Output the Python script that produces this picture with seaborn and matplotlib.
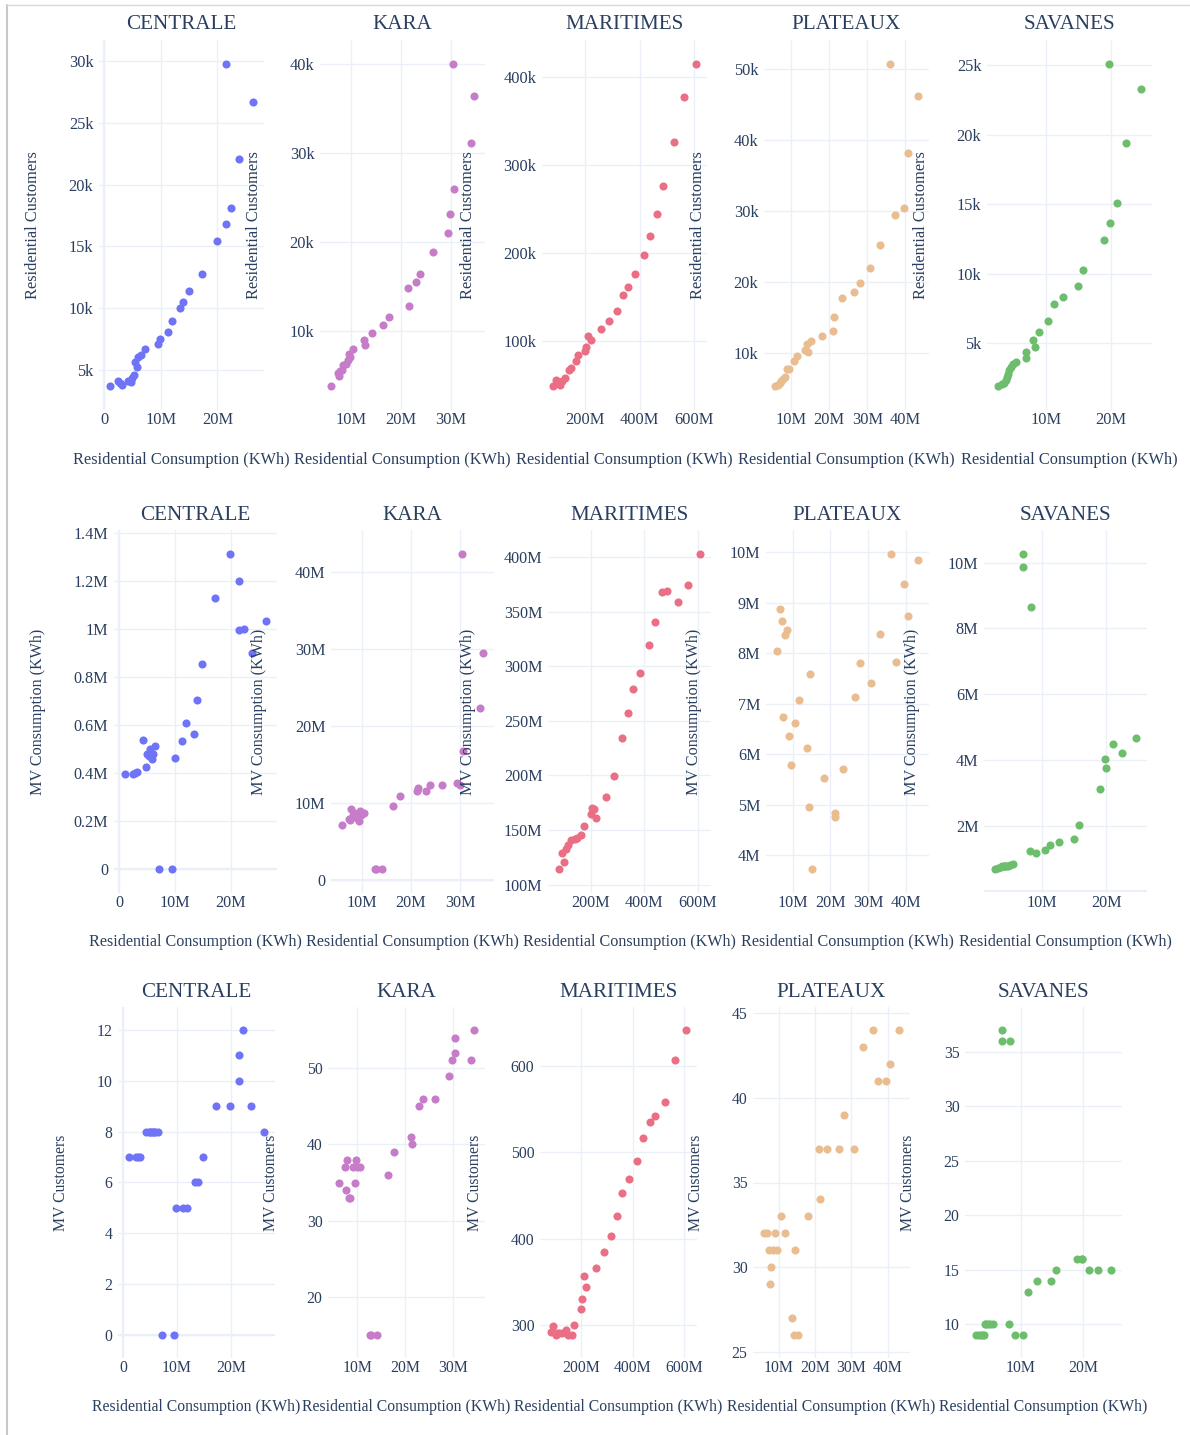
import numpy as np
import pandas as pd
import seaborn as sns
import matplotlib.pyplot as plt
from matplotlib.ticker import Formatter, FixedLocator
from matplotlib.lines import Line2D

sns.set_theme(style="white")
plt.rcParams["font.family"] = ["Liberation Serif", "DejaVu Serif"]

TEXT = "#2a3f5f"
GRID = "#EBF0F8"

regions = ["CENTRALE", "KARA", "MARITIMES", "PLATEAUX", "SAVANES"]
region_colors = ["#6F73F6", "#C67CC9", "#EA6F84", "#EABD91", "#6CBE6C"]

# ---- CENTRALE (consumption in millions of kWh, customers in thousands) ----
centrale_res_kwh_m = [1.1, 2.4, 2.8, 3.2, 4.2, 4.8, 5.0, 5.3, 5.5, 5.8, 6.0, 6.5, 7.2, 9.5,
                      9.9, 11.2, 11.9, 13.4, 13.9, 14.9, 17.2, 19.9, 21.5, 21.5, 22.3, 23.8, 26.2]
centrale_res_cust_k = [3.7, 4.1, 3.9, 3.8, 4.1, 4.0, 4.3, 4.6, 5.6, 5.2, 6.0, 6.24, 6.67, 7.1,
                       7.5, 8.1, 8.97, 10.0, 10.5, 11.4, 12.8, 15.4, 29.76, 16.8, 18.1, 22.1, 26.7]
centrale_mv_kwh_m = [0.397, 0.397, 0.400, 0.405, 0.54, 0.424, 0.48, 0.47, 0.50, 0.46, 0.48, 0.513, 0.0, 0.0,
                     0.463, 0.535, 0.61, 0.563, 0.705, 0.853, 1.13, 1.314, 1.2, 0.995, 1.0, 0.9, 1.034]
centrale_mv_cust = [7, 7, 7, 7, 8, 8, 8, 8, 8, 8, 8, 8, 0, 0,
                    5, 5, 5, 6, 6, 7, 9, 9, 11, 10, 12, 9, 8]

# ---- KARA ----
kara_res_kwh_m = [6.1, 7.4, 7.6, 7.9, 8.2, 8.5, 9.1, 9.4, 9.6, 9.9, 10.5, 12.7, 12.9, 14.2,
                  16.4, 17.7, 21.3, 21.5, 23.0, 23.8, 26.3, 29.3, 29.8, 30.4, 30.5, 33.9, 34.5]
kara_res_cust_k = [3.8, 5.2, 4.9, 5.5, 5.6, 6.1, 6.3, 6.7, 7.4, 7.1, 7.9, 9.0, 8.4, 9.8,
                   10.6, 11.5, 14.8, 12.8, 15.5, 16.4, 18.9, 21.0, 23.1, 40.0, 26.0, 31.1, 36.4]
kara_mv_kwh_m = [7.1, 8.0, 7.8, 9.2, 8.4, 8.7, 8.1, 7.7, 9.0, 8.5, 8.7, 1.5, 1.4, 1.5,
                 9.6, 10.9, 11.6, 12.0, 11.6, 12.3, 12.4, 12.6, 12.4, 42.4, 16.8, 22.3, 29.5]
kara_mv_cust = [35, 37, 34, 38, 33, 33, 37, 35, 38, 37, 37, 15, 15, 15,
                36, 39, 41, 40, 45, 46, 46, 49, 51, 54, 52, 51, 55]

# ---- MARITIMES ----
maritimes_res_kwh_m = [82, 91, 101, 106, 115, 125, 140, 147, 164, 173, 200, 204, 211, 220,
                       256, 287, 317, 339, 358, 384, 417, 440, 465, 486, 526, 564, 607]
maritimes_res_cust_k = [49.4, 56, 53, 50, 55, 58, 67, 70, 78, 84, 89, 94, 106, 101,
                        114, 123, 135, 153, 162, 176, 198, 220, 245, 277, 327, 378, 415]
maritimes_mv_kwh_m = [114, 129, 121, 133, 136, 141, 142, 143, 145, 154, 165, 170, 169, 161,
                      180, 199, 234, 257, 279, 294, 319, 340, 368, 369, 359, 374, 403]
maritimes_mv_cust = [292, 298, 288, 290, 291, 291, 294, 288, 288, 300, 318, 330, 357, 344,
                     366, 384, 403, 426, 453, 469, 490, 517, 535, 542, 558, 607, 642]

# ---- PLATEAUX ----
plateaux_res_kwh_m = [5.9, 6.7, 7.2, 7.5, 8.0, 8.5, 8.9, 9.5, 10.7, 11.6, 13.7, 14.2, 14.5, 15.2,
                      18.2, 21.1, 21.3, 23.4, 26.6, 28.0, 30.8, 33.3, 36.0, 37.3, 39.5, 40.6, 43.2]
plateaux_res_cust_k = [5.35, 5.5, 5.8, 6.1, 6.3, 6.6, 7.8, 7.8, 8.8, 9.6, 10.4, 11.2, 10.1, 11.7,
                       12.4, 13.1, 15.0, 17.7, 18.6, 19.8, 22.0, 25.2, 50.75, 29.4, 30.5, 38.2, 46.2]
plateaux_mv_kwh_m = [8.04, 8.88, 8.64, 6.74, 8.36, 8.45, 6.35, 5.78, 6.61, 7.08, 6.12, 4.95, 7.58, 3.72,
                     5.52, 4.83, 4.76, 5.71, 7.13, 7.81, 7.40, 8.37, 9.97, 7.82, 9.36, 8.74, 9.84]
plateaux_mv_cust = [32, 32, 31, 29, 30, 31, 32, 31, 33, 32, 27, 26, 31, 26,
                    33, 37, 34, 37, 37, 39, 37, 43, 44, 41, 41, 42, 44]

# ---- SAVANES ----
savanes_res_kwh_m = [2.7, 3.2, 3.6, 3.8, 4.0, 4.2, 4.4, 4.7, 5.0, 5.4, 7.0, 7.0, 8.3,
                     8.1, 9.0, 10.4, 11.2, 12.6, 14.9, 15.7, 19.0, 19.9, 19.8, 21.0, 22.4, 24.6]
savanes_res_cust_k = [1.93, 2.03, 2.17, 2.37, 2.56, 2.8, 3.08, 3.32, 3.5, 3.68, 3.92, 4.35, 4.7,
                      5.24, 5.8, 6.6, 7.8, 8.33, 9.14, 10.27, 12.43, 13.65, 25.07, 15.06, 19.4, 23.28]
savanes_mv_kwh_m = [0.67, 0.71, 0.75, 0.77, 0.77, 0.77, 0.78, 0.78, 0.79, 0.83, 10.27, 9.87, 8.65,
                    1.24, 1.16, 1.26, 1.4, 1.5, 1.6, 2.02, 3.12, 3.76, 4.02, 4.49, 4.21, 4.65]
savanes_mv_cust = [9, 9, 9, 9, 9, 10, 10, 10, 10, 10, 37, 36, 36,
                   10, 9, 9, 13, 14, 14, 15, 16, 16, 16, 15, 15, 15]

X_COL = "Residential Consumption (KWh)"
Y_COLS = ["Residential Customers", "MV Consumption (KWh)", "MV Customers"]

region_series = [
    (centrale_res_kwh_m, centrale_res_cust_k, centrale_mv_kwh_m, centrale_mv_cust),
    (kara_res_kwh_m, kara_res_cust_k, kara_mv_kwh_m, kara_mv_cust),
    (maritimes_res_kwh_m, maritimes_res_cust_k, maritimes_mv_kwh_m, maritimes_mv_cust),
    (plateaux_res_kwh_m, plateaux_res_cust_k, plateaux_mv_kwh_m, plateaux_mv_cust),
    (savanes_res_kwh_m, savanes_res_cust_k, savanes_mv_kwh_m, savanes_mv_cust),
]

frames = []
for reg, (rk, rc, mk, mc) in zip(regions, region_series):
    frames.append(pd.DataFrame({
        "Region": reg,
        X_COL: np.array(rk) * 1e6,
        Y_COLS[0]: np.array(rc) * 1e3,
        Y_COLS[1]: np.array(mk) * 1e6,
        Y_COLS[2]: np.array(mc),
    }))
df = pd.concat(frames, ignore_index=True)

# tick spacing per axis
x_steps = [1e7, 1e7, 2e8, 1e7, 1e7]
y_steps = [
    [5e3, 1e4, 1e5, 1e4, 5e3],
    [2e5, 1e7, 5e7, 1e6, 2e6],
    [2, 10, 100, 5, 5],
]


class SIFormatter(Formatter):
    """Plain numbers with k / M suffix chosen from the largest tick."""

    def __call__(self, v, pos=None):
        if abs(v) < 1e-9:
            return "0"
        top = max(abs(t) for t in self.locs) if len(self.locs) else abs(v)
        for div, suf in ((1e9, "G"), (1e6, "M"), (1e3, "k")):
            if top >= div:
                return f"{v / div:.6g}{suf}"
        return f"{v:.6g}"


def ticks_in_view(lo, hi, step, edge=0.006):
    span = hi - lo
    k0 = np.ceil((lo + edge * span) / step)
    k1 = np.floor((hi - edge * span) / step)
    return [k * step for k in np.arange(k0, k1 + 1)]


FIG_W, FIG_H = 1190, 1435
# (top, bottom, width, lefts, title pad, font size, x-label pad) per row, pixels
row_layout = [
    (40, 410, 165, [99, 320, 542, 764, 987], 8.0, 11.8, 17.0),
    (530, 893, 163, [114, 331, 548, 766, 984], 7.5, 11.6, 16.5),
    (1007, 1358, 157, [118, 328, 540, 753, 965], 7.5, 11.3, 16.5),
]

fig = plt.figure(figsize=(FIG_W / 100, FIG_H / 100), dpi=100)
fig.patch.set_facecolor("white")

for r, (top, bottom, width, lefts, tpad, fs, xpad) in enumerate(row_layout):
    ycol = Y_COLS[r]
    for c, reg in enumerate(regions):
        ax = fig.add_axes([lefts[c] / FIG_W, 1 - bottom / FIG_H,
                           width / FIG_W, (bottom - top) / FIG_H])
        sub = df[df["Region"] == reg]
        sns.scatterplot(data=sub, x=X_COL, y=ycol, color=region_colors[c],
                        s=34, linewidth=0, ax=ax, zorder=3)
        ax.margins(x=0.08, y=0.075)
        ax.autoscale_view()
        x0, x1 = ax.get_xlim()
        y0, y1 = ax.get_ylim()
        ax.set_xlim(x0, x1)
        ax.set_ylim(y0, y1)
        ax.xaxis.set_major_locator(FixedLocator(ticks_in_view(x0, x1, x_steps[c])))
        ax.yaxis.set_major_locator(FixedLocator(ticks_in_view(y0, y1, y_steps[r][c])))
        ax.xaxis.set_major_formatter(SIFormatter())
        ax.yaxis.set_major_formatter(SIFormatter())
        ax.grid(True, color=GRID, linewidth=1.0, zorder=0)
        if y0 < 0 < y1:
            ax.axhline(0, color=GRID, linewidth=1.6, zorder=1)
        if x0 < 0 < x1:
            ax.axvline(0, color=GRID, linewidth=1.6, zorder=1)
        for sp in ax.spines.values():
            sp.set_visible(False)
        ax.tick_params(axis="both", length=0, labelsize=fs, labelcolor=TEXT)
        ax.tick_params(axis="x", pad=1.5)
        ax.tick_params(axis="y", pad=4)
        ax.set_title(reg, fontsize=15.2, color=TEXT, pad=tpad)
        ax.set_xlabel(X_COL, fontsize=fs, color=TEXT, labelpad=xpad)
        ax.set_ylabel(ycol, fontsize=fs, color=TEXT, labelpad=20)
        ax.set_facecolor("white")

# light frame along the top and left edges
fig.add_artist(Line2D([7 / FIG_W, 7 / FIG_W], [0, 1 - 5 / FIG_H],
                      transform=fig.transFigure, color="#c8c8c8", linewidth=1.5))
fig.add_artist(Line2D([7 / FIG_W, 1], [1 - 5 / FIG_H, 1 - 5 / FIG_H],
                      transform=fig.transFigure, color="#d8d8d8", linewidth=1.0))

fig.savefig("out.png", dpi=100, facecolor="white")
